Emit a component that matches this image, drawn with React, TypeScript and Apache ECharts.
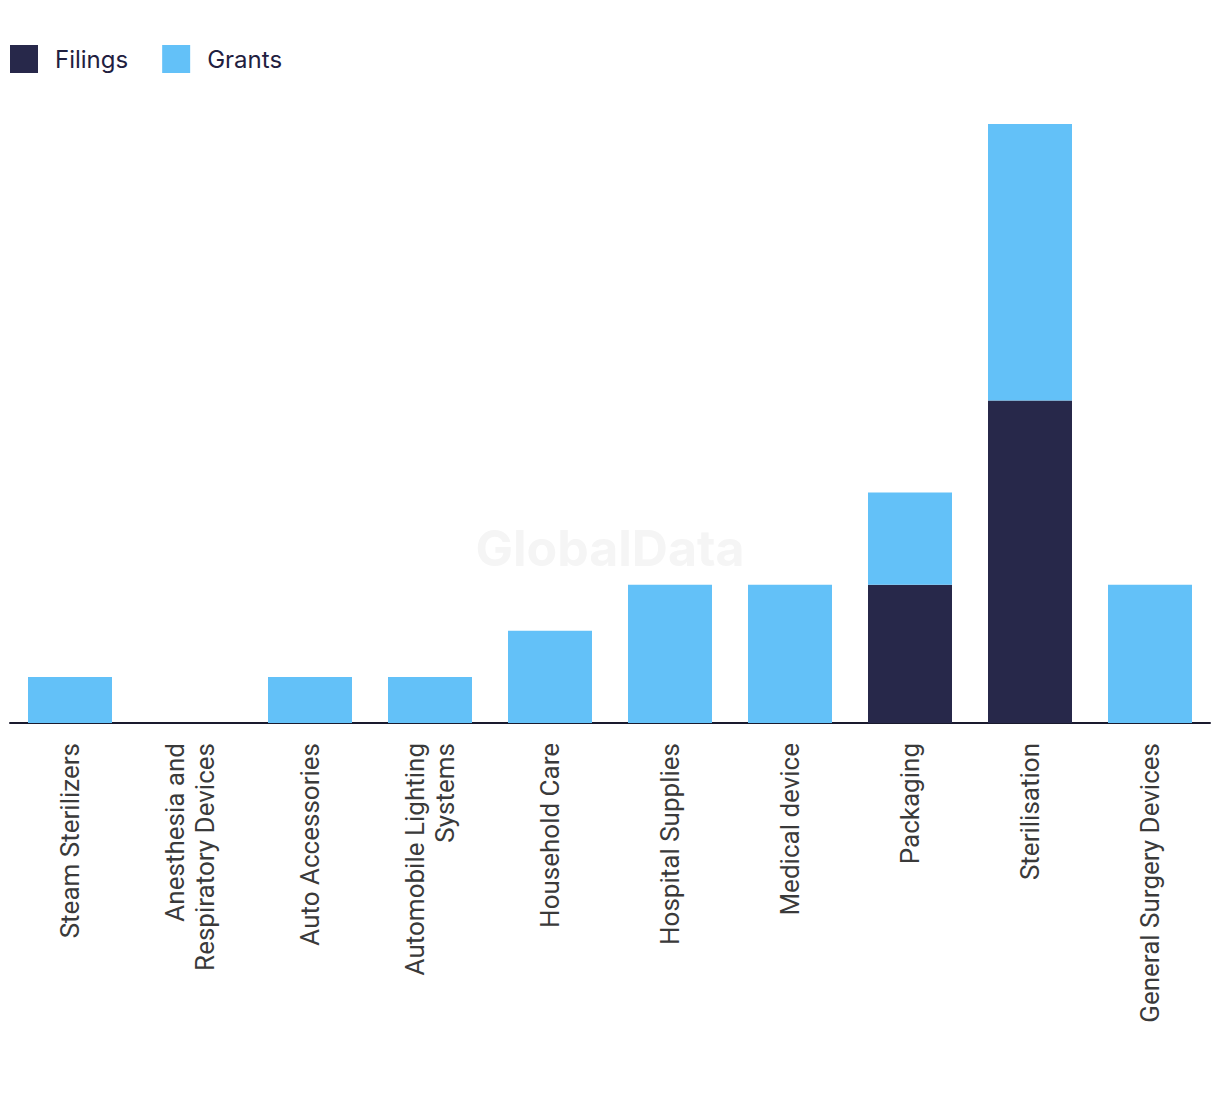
import React, { useEffect, useRef } from "react";
import * as echarts from "echarts";

const categories = [
  "Steam Sterilizers",
  "Anesthesia and\nRespiratory Devices",
  "Auto Accessories",
  "Automobile Lighting\nSystems",
  "Household Care",
  "Hospital Supplies",
  "Medical device",
  "Packaging",
  "Sterilisation",
  "General Surgery Devices",
];
const filings = [0, 0, 0, 0, 0, 0, 0, 3, 7, 0];
const grants = [1, 0, 1, 1, 2, 3, 3, 2, 6, 3];

export default function App() {
  const ref = useRef<HTMLDivElement>(null);
  useEffect(() => {
    document.body.style.margin = "0";
    const chart = echarts.init(ref.current!, null, { renderer: "svg" });
    chart.setOption({
      animation: false,
      backgroundColor: "#ffffff",
      textStyle: { fontFamily: "Roboto, sans-serif" },
      graphic: [
        {
          type: "text",
          x: 610,
          y: 548,
          style: {
            text: "GlobalData",
            fontSize: 50,
            fontWeight: "bold",
            fontFamily: "Inter, Roboto, sans-serif",
            fill: "#f5f5f5",
            align: "center",
            verticalAlign: "middle",
          },
          z: -1,
        },
      ],
      legend: {
        left: 10,
        top: 45,
        padding: 0,
        itemWidth: 28,
        itemHeight: 28,
        itemGap: 34,
        icon: "rect",
        textStyle: {
          fontSize: 24,
          color: "#1f2040",
          padding: [0, 0, 2, 12],
          fontFamily: "Inter, Roboto, sans-serif",
        },
        data: ["Filings", "Grants"],
      },
      grid: { left: 10, right: 10, top: 124, bottom: 371, containLabel: false },
      xAxis: {
        type: "category",
        data: categories,
        axisLine: { show: true, lineStyle: { color: "#1a1a2e", width: 2 } },
        axisTick: { show: false },
        axisLabel: {
          rotate: 90,
          interval: 0,
          margin: 20,
          fontSize: 26,
          lineHeight: 30,
          color: "#3a3a3a",
          align: "right",
          fontFamily: "Roboto, sans-serif",
        },
      },
      yAxis: {
        type: "value",
        min: 0,
        max: 13,
        show: false,
        splitLine: { show: false },
      },
      series: [
        {
          name: "Filings",
          type: "bar",
          stack: "total",
          data: filings,
          barWidth: 84,
          itemStyle: { color: "#27284a" },
        },
        {
          name: "Grants",
          type: "bar",
          stack: "total",
          data: grants,
          barWidth: 84,
          itemStyle: { color: "#63c1f8" },
        },
      ],
    });
    return () => chart.dispose();
  }, []);
  return <div ref={ref} style={{ width: 1220, height: 1094 }} />;
}
